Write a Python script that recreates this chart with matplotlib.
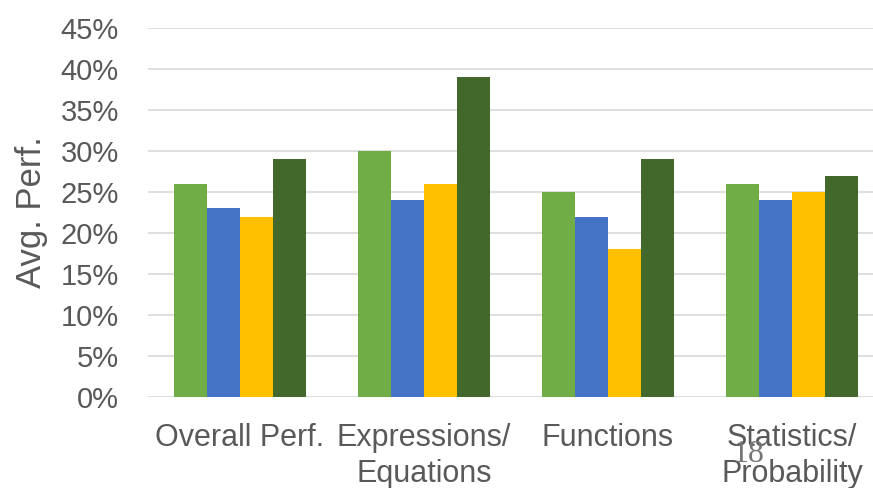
import matplotlib
matplotlib.use("Agg")
import matplotlib.pyplot as plt
import numpy as np

plt.rcParams['font.family'] = ['Liberation Sans', 'DejaVu Sans']

categories = ["Overall Perf.", "Expressions/\nEquations", "Functions", "Statistics/\nProbability"]
series_a = [26, 30, 25, 26]   # light green
series_b = [23, 24, 22, 24]   # blue
series_c = [22, 26, 18, 25]   # gold
series_d = [29, 39, 29, 27]   # dark green
yticks = [0, 5, 10, 15, 20, 25, 30, 35, 40, 45]

colors = ["#70AD47", "#4472C4", "#FFC000", "#43682B"]
text_gray = "#595959"

fig = plt.figure(figsize=(8.73, 4.88), dpi=100)
ax = fig.add_axes([148 / 873, 1 - 397 / 488, (884 - 148) / 873, (397 - 28) / 488])

x = np.arange(len(categories))
w = 0.18
for i, (vals, c) in enumerate(zip([series_a, series_b, series_c, series_d], colors)):
    ax.bar(x + (i - 1.5) * w, vals, width=w, color=c, zorder=3)

ax.set_xlim(-0.5, len(categories) - 0.5)
ax.set_ylim(0, 45)
ax.set_yticks(yticks)
ax.set_yticklabels([f"{v}%" for v in yticks])
ax.grid(axis='y', color="#D9D9D9", linewidth=1.2, zorder=0)
ax.set_axisbelow(True)
for s in ax.spines.values():
    s.set_visible(False)
ax.tick_params(axis='y', length=0, pad=21, labelsize=21, labelcolor=text_gray)
ax.tick_params(axis='x', length=0, pad=19, labelsize=22, labelcolor=text_gray)
ax.set_xticks(x)
ax.set_xticklabels(categories, linespacing=1.25)

fig.text(31 / 873, 1 - 212 / 488, "Avg. Perf.", rotation=90, ha='center', va='center',
         fontsize=25, color=text_gray)

fig.text(748 / 873, 1 - 454 / 488, "18", ha='center', va='center', fontsize=23,
         color="#767676", family=['Liberation Serif', 'DejaVu Serif'])

fig.savefig("out.png", dpi=100)
